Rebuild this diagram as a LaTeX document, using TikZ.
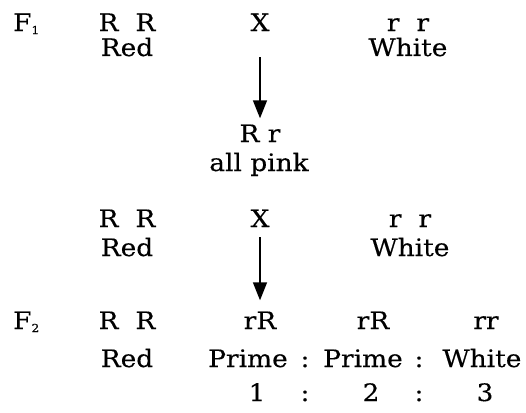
\documentclass[tikz,border=0pt]{standalone}
\usepackage{fontspec}
\setmainfont{DejaVu Serif}[FakeStretch=1.1,FakeBold=0.3]
\usetikzlibrary{arrows.meta}
\newcommand{\subsc}[1]{\raisebox{-3pt}{\fontsize{11}{11}\selectfont #1}}
\begin{document}
\begin{tikzpicture}[x=1pt,y=-1pt,
  txt/.style={inner sep=0pt, anchor=base, font=\fontsize{24}{28}\selectfont},
  lbl/.style={txt, anchor=base west},
  arr/.style={-{Triangle[length=18pt,width=14pt]}, line width=1.6pt}]
\useasboundingbox (0,0) rectangle (526,412);
% block 1
\node[lbl] (F1) at (13,31) {F\subsc{1}};
\node[txt] (RR1) at (127,31) {R\hspace{17pt}R};
\node[txt] (Red1) at (127,56) {Red};
\node[txt] (X1) at (260,31) {X};
\node[txt] (rr1) at (408,31) {r\hspace{17pt}r};
\node[txt] (White1) at (408,56) {White};
% F1 offspring
\node[txt] (Rr) at (260,142) {R r};
\node[txt] (pink) at (259,171) {all pink};
\draw[arr, shorten <=26pt, shorten >=6pt] (X1.south) -- (Rr.north);
% block 2
\node[txt] (RR2) at (127,227) {R\hspace{17pt}R};
\node[txt] (Red2) at (127,256) {Red};
\node[txt] (X2) at (260,227) {X};
\node[txt] (rr2) at (410,227) {r\hspace{17pt}r};
\node[txt] (White2) at (410,256) {White};
% F2 row
\node[lbl] (F2) at (13,329) {F\subsc{2}};
\node[txt] (RR3) at (127,329) {R\hspace{17pt}R};
\node[txt] (rR1) at (260,329) {rR};
\node[txt] (rR2) at (373,329) {rR};
\node[txt] (rr3) at (486,329) {rr};
\draw[arr, shorten <=10pt, shorten >=11pt] (X2.south) -- (rR1.north);
% phenotypes
\node[txt] (Red3) at (127,367) {Red};
\node[txt] (P1) at (248,367) {Prime};
\node[txt] (c1) at (305,367) {:};
\node[txt] (P2) at (363,367) {Prime};
\node[txt] (c2) at (419,367) {:};
\node[txt] (W3) at (482,367) {White};
% ratio
\node[txt] (n1) at (257,401) {1};
\node[txt] (c3) at (305,401) {:};
\node[txt] (n2) at (371,401) {2};
\node[txt] (c4) at (419,401) {:};
\node[txt] (n3) at (485,401) {3};
\end{tikzpicture}
\end{document}
